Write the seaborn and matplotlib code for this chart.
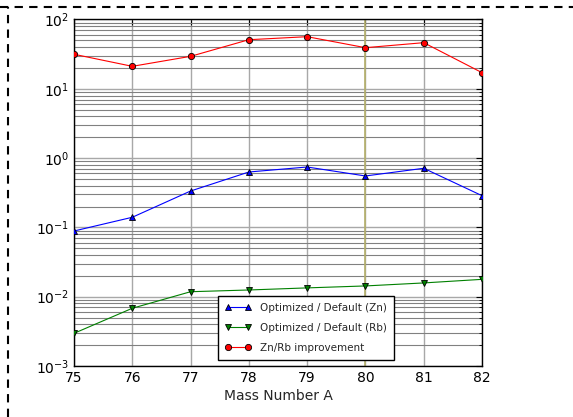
import matplotlib
matplotlib.use("Agg")
import matplotlib.pyplot as plt
import seaborn as sns
import pandas as pd
import numpy as np
from matplotlib.lines import Line2D
from matplotlib.ticker import LogLocator, NullFormatter

mass = [75, 76, 77, 78, 79, 80, 81, 82]
zn_ratio = [0.0887, 0.140, 0.335, 0.63, 0.744, 0.552, 0.713, 0.287]
rb_ratio = [0.00296, 0.00681, 0.0118, 0.0125, 0.0134, 0.0143, 0.0158, 0.0178]
improvement = [31.5, 21.1, 29.4, 51.1, 56.5, 39.2, 46.3, 17.1]
labels = ["Optimized / Default (Zn)", "Optimized / Default (Rb)", "Zn/Rb improvement"]

sns.set_style("white")
plt.rcParams["font.family"] = ["DejaVu Sans"]

fig = plt.figure(figsize=(5.73, 4.17), dpi=100)
ax = fig.add_axes([74/573, 1 - 366/417, (482-74)/573, (366-19.5)/417])

series = [
    (zn_ratio, labels[0], "blue", "^"),
    (rb_ratio, labels[1], "green", "v"),
    (improvement, labels[2], "red", "o"),
]
for vals, lab, col, mk in series:
    df = pd.DataFrame({"A": mass, "v": vals})
    sns.lineplot(data=df, x="A", y="v", ax=ax, color=col, marker=mk,
                 markersize=4.5, markerfacecolor=col, markeredgecolor="black",
                 markeredgewidth=0.6, linewidth=0.8, label=lab, clip_on=True,
                 zorder=3)

ax.set_yscale("log")
ax.set_ylim(1e-3, 1e2)
ax.set_xlim(75, 82)
ax.set_xticks(mass)
ax.yaxis.set_major_locator(LogLocator(base=10, numticks=10))
ax.yaxis.set_minor_locator(LogLocator(base=10, subs=np.arange(2, 10), numticks=20))
ax.yaxis.set_minor_formatter(NullFormatter())

ax.grid(True, which="major", color="#a8a8a8", linewidth=1.0, zorder=0)
ax.grid(True, which="minor", axis="y", color="#808080", linewidth=0.8, zorder=0)
ax.axvline(80, color="#b5b06a", linewidth=1.2, zorder=1)

ax.tick_params(which="both", direction="in", top=True, right=True, labelsize=10,
               colors="black")
ax.tick_params(which="major", length=4)
ax.tick_params(which="minor", length=2)
for sp in ax.spines.values():
    sp.set_color("black")
    sp.set_linewidth(1.0)

ax.set_xlabel("Mass Number A", fontsize=10, labelpad=3)
ax.set_ylabel("")

leg = ax.legend(loc="lower left", bbox_to_anchor=((218-74)/408, (366-360)/346.5),
                fontsize=7.5, numpoints=2, frameon=True, fancybox=False,
                borderpad=0.7, labelspacing=0.95, handlelength=2.5,
                borderaxespad=0)
leg.get_frame().set_edgecolor("black")
leg.get_frame().set_linewidth(1.0)
leg.get_frame().set_alpha(1.0)

# dashed border of the figure
fig.add_artist(Line2D([0, 1], [1 - 7/417, 1 - 7/417], transform=fig.transFigure,
                      color="black", linestyle=(0, (4, 3)), linewidth=1.5))
fig.add_artist(Line2D([8/573, 8/573], [0, 1 - 7/417], transform=fig.transFigure,
                      color="black", linestyle=(0, (4, 3)), linewidth=1.5))

fig.savefig("out.png", dpi=100)
